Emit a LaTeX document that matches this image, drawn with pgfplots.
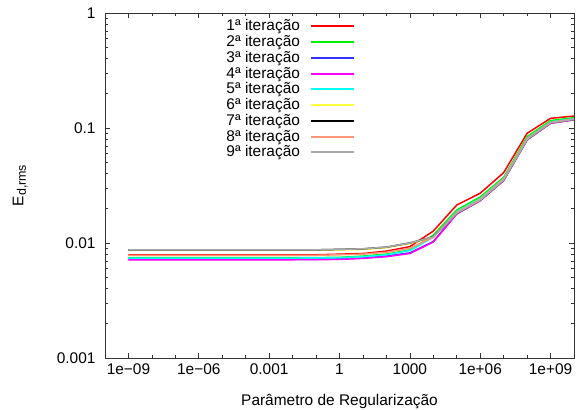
\documentclass[border=0pt]{standalone}
\usepackage{fontspec}
\setmainfont{Liberation Sans}
\usepackage{pgfplots}
\usepackage{pgfplotstable}
\pgfplotsset{compat=1.18}

% columns: x, it1 ... it9
\pgfplotstableread{
x     a       b       c       d       e       f       g       h       i
1e-9  0.0079  0.00745 0.0072  0.00715 0.0074  0.00865 0.0087  0.0078  0.0087
1e-8  0.0079  0.00745 0.0072  0.00715 0.0074  0.00865 0.0087  0.0078  0.0087
1e-7  0.0079  0.00745 0.0072  0.00715 0.0074  0.00865 0.0087  0.0078  0.0087
1e-6  0.0079  0.00745 0.0072  0.00715 0.0074  0.00865 0.0087  0.0078  0.0087
1e-5  0.0079  0.00745 0.0072  0.00715 0.0074  0.00865 0.0087  0.0078  0.0087
1e-4  0.0079  0.00745 0.0072  0.00715 0.0074  0.00865 0.0087  0.0078  0.0087
1e-3  0.0079  0.00745 0.0072  0.00715 0.0074  0.00865 0.0087  0.0078  0.0087
1e-2  0.0079  0.00745 0.0072  0.00715 0.0074  0.00865 0.0087  0.0078  0.0087
1e-1  0.0079  0.00747 0.00722 0.00717 0.00742 0.00867 0.00872 0.00782 0.00872
1e0   0.0080  0.0075  0.00725 0.0072  0.00745 0.0087  0.0088  0.0079  0.0088
1e1   0.0081  0.0077  0.0074  0.00735 0.0076  0.0088  0.0089  0.0080  0.0089
1e2   0.0085  0.0080  0.0077  0.0076  0.0079  0.0091  0.0092  0.0083  0.0092
1e3   0.0093  0.0087  0.0082  0.0081  0.0086  0.0099  0.0100  0.0090  0.0100
1e4   0.0127  0.0117  0.0103  0.0102  0.0112  0.0112  0.0113  0.0112  0.0113
1e5   0.0214  0.0194  0.0180  0.0179  0.0188  0.0182  0.0182  0.0185  0.0182
1e6   0.0271  0.0251  0.0234  0.0233  0.0243  0.0236  0.0236  0.0240  0.0236
1e7   0.0409  0.0372  0.0350  0.0349  0.0362  0.0353  0.0353  0.0360  0.0353
1e8   0.0899  0.0841  0.0790  0.0788  0.0815  0.0797  0.0797  0.0810  0.0797
1e9   0.1214  0.1160  0.1100  0.1098  0.1130  0.1110  0.1110  0.1120  0.1110
1e10  0.1270  0.1230  0.1180  0.1178  0.1210  0.1190  0.1190  0.1200  0.1190
}\data

\definecolor{itred}{RGB}{255,0,0}
\definecolor{itgreen}{RGB}{0,240,0}
\definecolor{itblue}{RGB}{50,50,255}
\definecolor{itmagenta}{RGB}{255,0,255}
\definecolor{itcyan}{RGB}{0,255,255}
\definecolor{ityellow}{RGB}{255,255,60}
\definecolor{itblack}{RGB}{0,0,0}
\definecolor{itsalmon}{RGB}{255,150,120}
\definecolor{itgray}{RGB}{170,170,170}

\begin{document}
\begin{tikzpicture}
\begin{axis}[
  at={(0,0)}, anchor=south west,
  width=469bp, height=345bp, scale only axis,
  xmode=log, ymode=log,
  xmin=1e-10, xmax=1e10, ymin=1e-3, ymax=1,
  xtick={1e-9,1e-6,1e-3,1,1e3,1e6,1e9},
  xticklabels={1e−09,1e−06,0.001,1,1000,1e+06,1e+09},
  minor xtick={1e-10,1e-8,1e-7,1e-5,1e-4,1e-2,1e-1,1e1,1e2,1e4,1e5,1e7,1e8,1e10},
  ytick={0.001,0.01,0.1,1},
  yticklabels={0.001,0.01,0.1,1},
  minor ytick={0.002,0.003,0.004,0.005,0.006,0.007,0.008,0.009,0.02,0.03,0.04,0.05,0.06,0.07,0.08,0.09,0.2,0.3,0.4,0.5,0.6,0.7,0.8,0.9},
  tick align=inside,
  major tick length=5bp, minor tick length=3bp,
  tick style={draw=black!80, line width=0.6bp},
  axis line style={draw=black!80, line width=0.8bp},
  /pgf/number format/assume math mode=true,
  tick label style={font=\fontsize{15.5}{17}\selectfont},
  xticklabel style={yshift=-2bp},
  yticklabel style={xshift=-6bp},
  label style={font=\fontsize{15.5}{17}\selectfont},
  xlabel={Parâmetro de Regularização},
  ylabel={E\raisebox{-0.3ex}{\fontsize{12.5}{13}\selectfont d,rms}},
  xlabel style={at={(axis description cs:0.5,-0.125)}, anchor=center},
  ylabel style={at={(axis description cs:-0.181,0.5)}, anchor=center},
  legend plot pos=right,
  legend cell align=right,
  legend image code/.code={%
    \draw[#1, line width=2bp] (0bp,1.5bp) -- (43bp,1.5bp);},
  legend style={at={(rel axis cs:0.533,0.980)}, anchor=north east,
    draw=none, fill=none, inner sep=0pt, outer sep=0pt,
    font=\fontsize{15.5}{17}\selectfont,
    nodes={inner sep=0pt, text height=11bp, text depth=4.75bp},
    column sep=10bp, row sep=0pt},
  every axis plot/.append style={line width=1.5bp},
]
\addplot[draw=itred] table[x=x,y=a]{\data};
\addlegendentry{1ª iteração}
\addplot[draw=itgreen] table[x=x,y=b]{\data};
\addlegendentry{2ª iteração}
\addplot[draw=itblue] table[x=x,y=c]{\data};
\addlegendentry{3ª iteração}
\addplot[draw=itmagenta] table[x=x,y=d]{\data};
\addlegendentry{4ª iteração}
\addplot[draw=itcyan] table[x=x,y=e]{\data};
\addlegendentry{5ª iteração}
\addplot[draw=ityellow] table[x=x,y=f]{\data};
\addlegendentry{6ª iteração}
\addplot[draw=itblack] table[x=x,y=g]{\data};
\addlegendentry{7ª iteração}
\addplot[draw=itsalmon] table[x=x,y=h]{\data};
\addlegendentry{8ª iteração}
\addplot[draw=itgray] table[x=x,y=i]{\data};
\addlegendentry{9ª iteração}
\end{axis}
\pgfresetboundingbox
\path[use as bounding box] (-105bp,-52bp) rectangle (477bp,358bp);
\end{tikzpicture}
\end{document}
